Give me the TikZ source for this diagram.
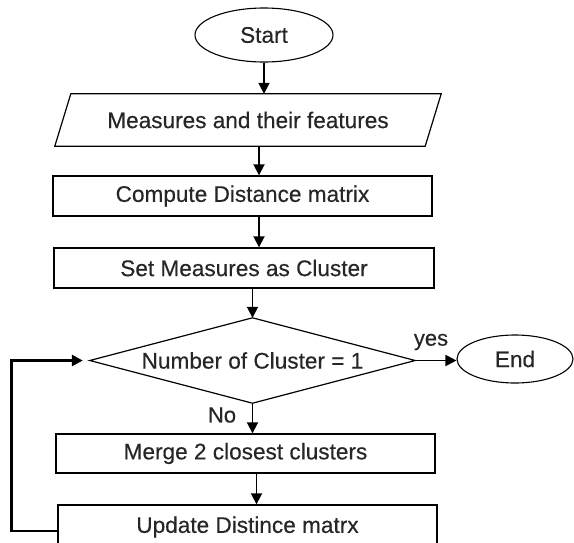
\documentclass[tikz,border=0pt]{standalone}
\usepackage{fontspec}
\setmainfont[FakeBold=0.35]{Liberation Sans}
\usetikzlibrary{shapes.geometric,arrows.meta}
\begin{document}
\begin{tikzpicture}[x=1pt,y=-1pt,
  every node/.style={font=\fontsize{22.6}{26}\selectfont, text=black!85, inner sep=0pt},
  term/.style={ellipse, draw, line width=1.1pt},
  procbox/.style={rectangle, draw, line width=1.4pt},
  ghost/.style={rectangle},
  shapeline/.style={line width=1.2pt},
  arr/.style={line width=1.8pt, -{Triangle[length=11pt,width=11pt]}},
  looparr/.style={line width=2.8pt, -{Triangle[length=11pt,width=11pt]}},
  lbl/.style={font=\fontsize{22}{26}\selectfont}
]
\useasboundingbox (0,0) rectangle (574,542);
\clip (0,0) rectangle (574,542);

\node[term, minimum width=138pt, minimum height=54pt] (start) at (264,35) {Start};

\node[ghost, minimum width=370pt, minimum height=52pt] (para) at (248,120) {Measures and their features};
\draw[shapeline] ([xshift=8pt]para.north west) -- ([xshift=8pt]para.north east)
  -- ([xshift=-8pt]para.south east) -- ([xshift=-8pt]para.south west) -- cycle;

\node[procbox, minimum width=379pt, minimum height=40pt] (compute) at (242.5,196) {Compute Distance matrix};
\node[procbox, minimum width=380pt, minimum height=40pt] (setc) at (244,268) {Set Measures as Cluster};

\node[ghost, minimum width=325pt, minimum height=85pt] (dia) at (252.5,360.5) {Number of Cluster = 1};
\draw[shapeline] (dia.north) -- (dia.east) -- (dia.south) -- (dia.west) -- cycle;

\node[term, minimum width=116pt, minimum height=48pt] (end) at (515,359) {End};

\node[procbox, minimum width=379pt, minimum height=39pt] (merge) at (245.5,453.5) {Merge 2 closest clusters};
\node[procbox, minimum width=379pt, minimum height=44pt] (update) at (247.5,527) {Update Distince matrx};

\node[lbl] (yes) at (431,342) {yes};
\node[lbl] (no) at (222,415) {No};

\draw[arr] (start.south) -- (start.south |- para.north);
\draw[arr] ([xshift=11pt]para.south) -- ([xshift=11pt]para.south |- compute.north);
\draw[arr] ([xshift=16.5pt]compute.south) -- ([xshift=16.5pt]compute.south |- setc.north);
\draw[arr] (setc.south -| dia.north) -- (dia.north);
\draw[arr] (dia.south) -- (dia.south |- merge.north);
\draw[arr] ([xshift=11pt]merge.south) -- ([xshift=11pt]merge.south |- update.north);
\draw[arr] (dia.east) -- (dia.east -| end.west);
\draw[looparr] ([yshift=-4pt]update.west) -- ++(-46pt,0) |- ([xshift=-7pt]dia.west);
\end{tikzpicture}
\end{document}
